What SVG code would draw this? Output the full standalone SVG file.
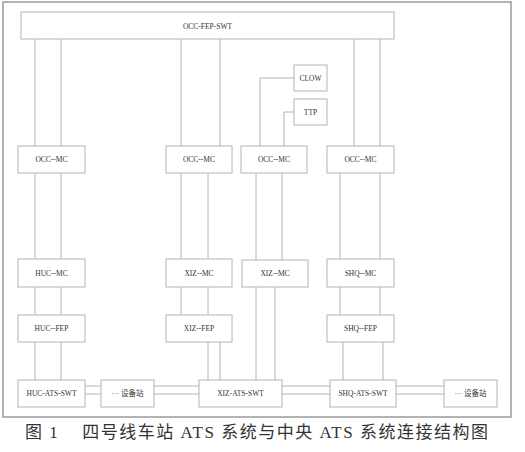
<svg xmlns="http://www.w3.org/2000/svg" width="525" height="452" viewBox="0 0 525 452">
<style>
.box{fill:#fff;stroke:#b4b4b4;stroke-width:1}
.lbl{font-family:"Liberation Serif","Noto Sans CJK SC",serif;font-size:7.5px;fill:#333;text-anchor:middle}
.ln{stroke:#b4b4b4;stroke-width:1;fill:none}
</style>
<rect x="0" y="0" width="525" height="452" fill="#fff"/>
<rect x="3" y="2" width="508" height="415" fill="none" stroke="#9a9a9a" stroke-width="1.5"/>
<g id="connectors" class="ln">
<path d="M35 39V146M61 39V146M35 173V259M61 173V259M35 287V315M61 287V315M35 342V380M61 342V380"/>
<path d="M181 39V146M220 39V146M181 173V259M208 173V259M181 287V315M208 287V315M208 342V380M220 342V380"/>
<path d="M294 78H260V146M294 112H284V146M256 173V260M282 173V260M256 287V380M275 287V380"/>
<path d="M354 39V146M380 39V146M340 173V259M380 173V259M340 287V315M380 287V315M343 342V380M383 342V380"/>
<path d="M85 386H101M85 394H101M154 386H199M154 394H199M282 386H330M282 394H330M396 386H444M396 394H444"/>
</g>
<g id="occ-fep-swt"><rect class="box" x="21" y="12" width="373" height="27"/><text class="lbl" x="207.5" y="28.5">OCC-FEP-SWT</text></g>
<g id="clow"><rect class="box" x="294" y="65" width="33" height="26"/><text class="lbl" x="310.5" y="80.5">CLOW</text></g>
<g id="ttp"><rect class="box" x="294" y="99" width="33" height="26"/><text class="lbl" x="310.5" y="114.5">TTP</text></g>
<g id="occ-mc-1"><rect class="box" x="18" y="146" width="67" height="27"/><text class="lbl" x="51.5" y="162">OCC--MC</text></g>
<g id="occ-mc-2"><rect class="box" x="166" y="146" width="66" height="27"/><text class="lbl" x="199" y="162">OCC--MC</text></g>
<g id="occ-mc-3"><rect class="box" x="241" y="146" width="66" height="27"/><text class="lbl" x="274" y="162">OCC--MC</text></g>
<g id="occ-mc-4"><rect class="box" x="327" y="146" width="67" height="27"/><text class="lbl" x="360.5" y="162">OCC--MC</text></g>
<g id="huc-mc"><rect class="box" x="18" y="259" width="67" height="28"/><text class="lbl" x="51.5" y="275.5">HUC--MC</text></g>
<g id="xiz-mc-1"><rect class="box" x="166" y="259" width="66" height="28"/><text class="lbl" x="199" y="275.5">XIZ--MC</text></g>
<g id="xiz-mc-2"><rect class="box" x="242" y="260" width="66" height="27"/><text class="lbl" x="275" y="276">XIZ--MC</text></g>
<g id="shq-mc"><rect class="box" x="327" y="259" width="67" height="28"/><text class="lbl" x="360.5" y="275.5">SHQ--MC</text></g>
<g id="huc-fep"><rect class="box" x="18" y="315" width="67" height="27"/><text class="lbl" x="51.5" y="331">HUC--FEP</text></g>
<g id="xiz-fep"><rect class="box" x="166" y="315" width="66" height="27"/><text class="lbl" x="199" y="331">XIZ--FEP</text></g>
<g id="shq-fep"><rect class="box" x="327" y="315" width="67" height="27"/><text class="lbl" x="360.5" y="331">SHQ--FEP</text></g>
<g id="huc-ats-swt"><rect class="box" x="18" y="380" width="67" height="27"/><text class="lbl" x="51.5" y="396">HUC-ATS-SWT</text></g>
<g id="station-1"><rect class="box" x="101" y="380" width="53" height="27"/><text class="lbl" x="127.5" y="396">··· 设备站</text></g>
<g id="xiz-ats-swt"><rect class="box" x="199" y="380" width="83" height="27"/><text class="lbl" x="240.5" y="396">XIZ-ATS-SWT</text></g>
<g id="shq-ats-swt"><rect class="box" x="330" y="380" width="66" height="27"/><text class="lbl" x="363" y="396">SHQ-ATS-SWT</text></g>
<g id="station-2"><rect class="box" x="444" y="380" width="53" height="27"/><text class="lbl" x="470.5" y="396">··· 设备站</text></g>
<text x="25" y="438" font-family="'Liberation Serif','Noto Sans CJK SC',serif" font-size="17" fill="#333" textLength="463" lengthAdjust="spacing" xml:space="preserve">图 1    四号线车站 ATS 系统与中央 ATS 系统连接结构图</text>
</svg>
